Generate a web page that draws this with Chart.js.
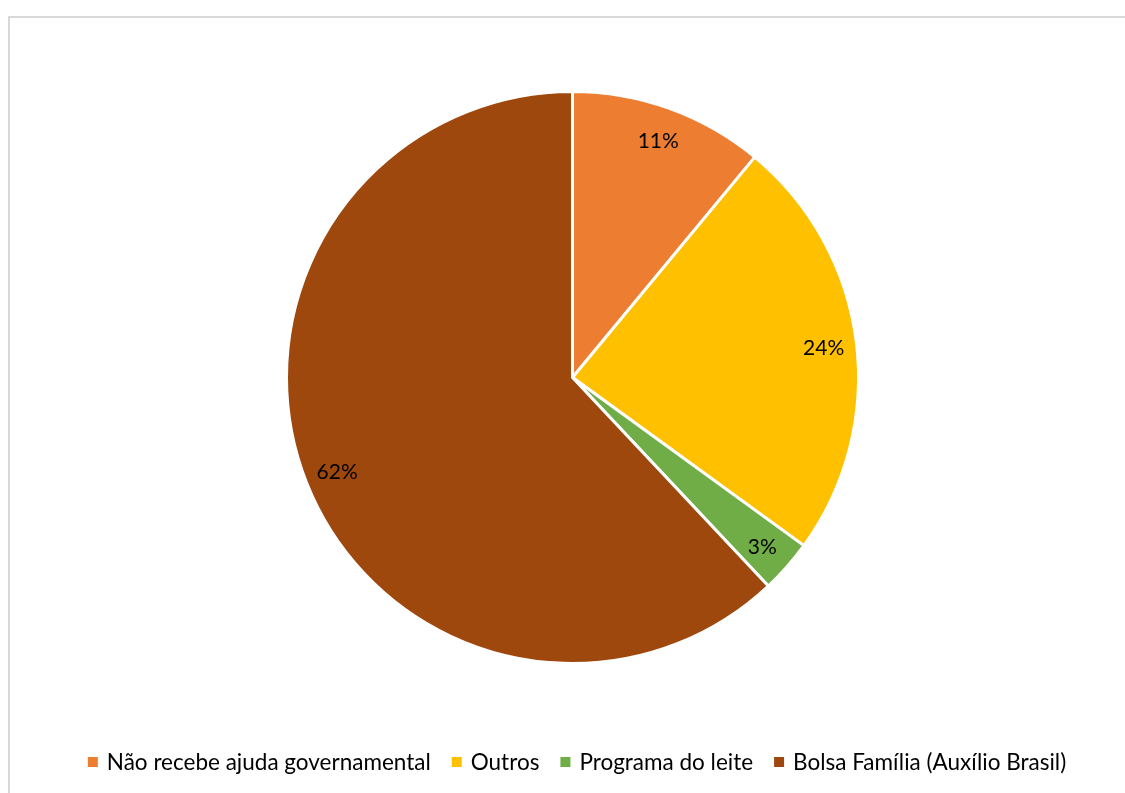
<!DOCTYPE html>
<html>
<head>
<meta charset="utf-8">
<script src="https://cdn.jsdelivr.net/npm/chart.js@4.4.1/dist/chart.umd.min.js"></script>
<style>
  html, body { margin: 0; padding: 0; background: #fff; }
  #wrap { position: relative; width: 1125px; height: 793px; overflow: hidden; }
  #frame {
    position: absolute; left: 8px; top: 16px; width: 1200px; height: 900px;
    border-top: 2px solid #d9d9d9; border-left: 2px solid #d9d9d9;
  }
  canvas { position: absolute; left: 0; top: 0; }
</style>
</head>
<body>
<div id="wrap">
  <div id="frame"></div>
  <canvas id="chart" width="1125" height="793"></canvas>
</div>
<script>
const categories = [
  'Não recebe ajuda governamental',
  'Outros',
  'Programa do leite',
  'Bolsa Família (Auxílio Brasil)'
];
const shares = [11, 24, 3, 62];
const sliceColors = ['#ED7D31', '#FFC000', '#70AD47', '#9E480E'];

const FONT = 'Lato, "Liberation Sans", sans-serif';

// percentage labels placed along each slice's mid angle
const sliceLabels = {
  id: 'sliceLabels',
  afterDatasetsDraw(chart) {
    const ctx = chart.ctx;
    const meta = chart.getDatasetMeta(0);
    const total = shares.reduce((a, b) => a + b, 0);
    ctx.save();
    ctx.font = '21px ' + FONT;
    ctx.fillStyle = '#000';
    ctx.textAlign = 'center';
    ctx.textBaseline = 'middle';
    meta.data.forEach((arc, i) => {
      const { x, y, startAngle, endAngle, outerRadius } = arc.getProps(['x', 'y', 'startAngle', 'endAngle', 'outerRadius'], true);
      const mid = (startAngle + endAngle) / 2;
      const r = outerRadius * 0.885;
      const pct = Math.round(shares[i] / total * 100) + '%';
      ctx.fillText(pct, x + Math.cos(mid) * r, y + Math.sin(mid) * r + 2);
    });
    ctx.restore();
  }
};

// single-row legend centred under the pie
const bottomLegend = {
  id: 'bottomLegend',
  afterDraw(chart) {
    const ctx = chart.ctx;
    const box = 10, gapText = 9, gapItem = 21, y = 762;
    ctx.save();
    ctx.font = '22.5px ' + FONT;
    const widths = categories.map(c => ctx.measureText(c).width);
    const total = widths.reduce((s, w) => s + box + gapText + w, 0) + gapItem * (categories.length - 1);
    let x = 577 - total / 2;
    ctx.textBaseline = 'middle';
    ctx.textAlign = 'left';
    categories.forEach((c, i) => {
      ctx.fillStyle = sliceColors[i];
      ctx.fillRect(x, y - box / 2, box, box);
      x += box + gapText;
      ctx.fillStyle = '#000';
      ctx.fillText(c, x, y + 1);
      x += widths[i] + gapItem;
    });
    ctx.restore();
  }
};

new Chart(document.getElementById('chart').getContext('2d'), {
  type: 'pie',
  data: {
    labels: categories,
    datasets: [{
      data: shares,
      backgroundColor: sliceColors,
      borderColor: '#ffffff',
      borderWidth: 3
    }]
  },
  options: {
    responsive: false,
    animation: false,
    layout: { padding: { top: 90, bottom: 128, left: 20, right: 0 } },
    plugins: {
      legend: { display: false },
      tooltip: { enabled: false }
    }
  },
  plugins: [sliceLabels, bottomLegend]
});
</script>
</body>
</html>
